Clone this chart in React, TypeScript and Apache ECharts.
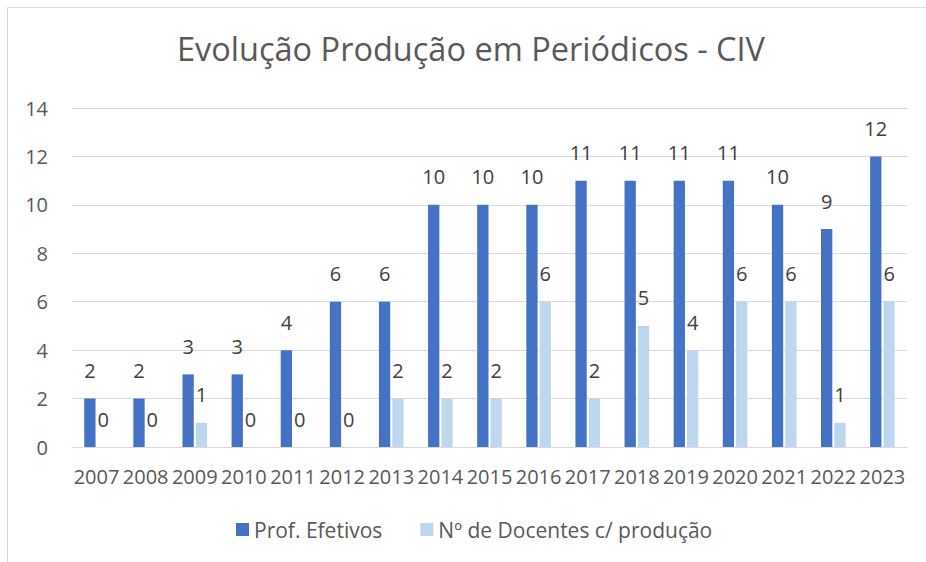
import React, { useEffect, useRef } from "react";
import * as echarts from "echarts";

const titleText = "Evolução Produção em Periódicos - CIV";
const categories = ["2007","2008","2009","2010","2011","2012","2013","2014","2015","2016","2017","2018","2019","2020","2021","2022","2023"];
const seriesNames = ["Prof. Efetivos", "Nº de Docentes c/ produção"];
const profEfetivos = [2,2,3,3,4,6,6,10,10,10,11,11,11,11,10,9,12];
const docentesProducao = [0,0,1,0,0,0,2,2,2,6,2,5,4,6,6,1,6];

const FONT = "'Open Sans', 'Liberation Sans', sans-serif";

export default function App() {
  const ref = useRef<HTMLDivElement>(null);
  useEffect(() => {
    if (!ref.current) return;
    const chart = echarts.init(ref.current, undefined, { renderer: "svg" });
    const label = {
      show: true,
      position: "top" as const,
      distance: 18,
      color: "#404040",
      fontSize: 20,
      fontFamily: FONT,
    };
    chart.setOption({
      animation: false,
      backgroundColor: "#ffffff",
      title: {
        text: titleText,
        left: 466,
        top: 27,
        textAlign: "center",
        textStyle: { color: "#595959", fontSize: 32.5, fontWeight: "normal", fontFamily: FONT },
      },
      graphic: [
        {
          type: "rect",
          shape: { x: 7.5, y: 7.5, width: 1200, height: 1200 },
          style: { fill: "none", stroke: "#d9d9d9", lineWidth: 1 },
          silent: true,
        },
      ],
      legend: {
        data: seriesNames,
        bottom: 17,
        left: 231,
        itemWidth: 13,
        itemHeight: 13,
        itemGap: 38,
        icon: "rect",
        textStyle: { color: "#595959", fontSize: 21, fontFamily: FONT },
      },
      grid: { left: 72, right: 19, top: 108, bottom: 115, containLabel: false },
      xAxis: {
        type: "category",
        data: categories,
        axisLine: { show: true, lineStyle: { color: "#d9d9d9", width: 1 } },
        axisTick: { show: false },
        axisLabel: { color: "#595959", fontSize: 20, fontFamily: FONT, margin: 19, interval: 0 },
      },
      yAxis: {
        type: "value",
        min: 0,
        max: 14,
        interval: 2,
        axisLine: { show: false },
        axisTick: { show: false },
        splitLine: { lineStyle: { color: "#d9d9d9", width: 1 } },
        axisLabel: { color: "#595959", fontSize: 20, fontFamily: FONT, margin: 24 },
      },
      series: [
        {
          name: seriesNames[0],
          type: "bar",
          data: profEfetivos,
          barWidth: "23%",
          barGap: "18%",
          itemStyle: { color: "#4472C4" },
          label,
        },
        {
          name: seriesNames[1],
          type: "bar",
          data: docentesProducao,
          barWidth: "23%",
          itemStyle: { color: "#BDD7EE" },
          label,
        },
      ],
    });
    return () => chart.dispose();
  }, []);
  return (
    <div
      ref={ref}
      style={{ position: "fixed", left: 0, top: 0, width: 926, height: 562, background: "#fff" }}
    />
  );
}
